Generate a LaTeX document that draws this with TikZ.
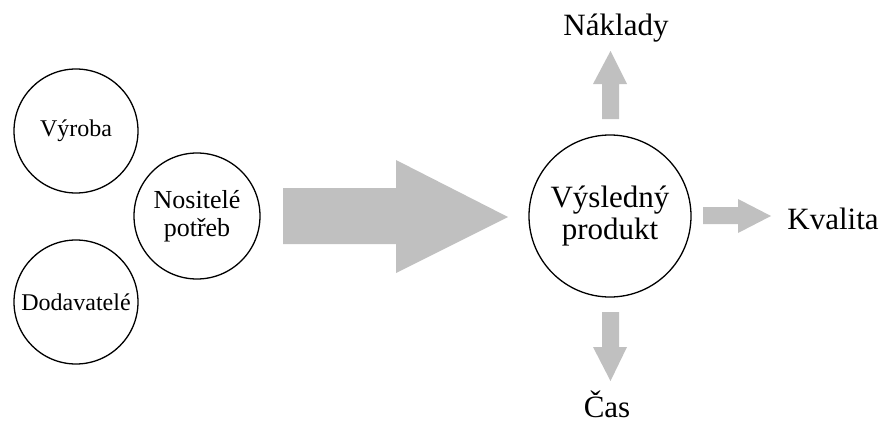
\documentclass[tikz,border=0pt]{standalone}
\usepackage{fontspec}
\setmainfont{Liberation Serif}
\definecolor{arrowgray}{RGB}{192,192,192}
\begin{document}
\begin{tikzpicture}[x=1pt,y=-1pt,
  circ/.style={draw, circle, line width=1.3pt, inner sep=0pt, align=center},
  smalltext/.style={font=\fontsize{24}{28}\selectfont},
  midtext/.style={font=\fontsize{26}{28}\selectfont},
  bigtext/.style={font=\fontsize{31}{33}\selectfont},
  blockarrow/.style={fill=arrowgray, draw=none},
  label/.style={bigtext, anchor=base, inner sep=0pt}]
\useasboundingbox (0,0) rectangle (884,423);

% input circles
\node[circ, smalltext, minimum size=124pt] (vyroba) at (76,131) {Výroba};
\node[circ, midtext, minimum size=126pt] (nositele) at (197,216) {Nositelé\\potřeb};
\node[circ, smalltext, minimum size=124pt] (dodavatele) at (76,302) {Dodavatelé};

% result circle
\node[circ, bigtext, minimum size=162pt] (produkt) at (610,216) {Výsledný\\[-1pt]produkt};

% big block arrow towards the result
\fill[blockarrow] (283,188) -- (396,188) -- (396,160) -- (508,217)
  -- (396,273) -- (396,244) -- (283,244) -- cycle;

% up arrow
\fill[blockarrow] (602,119) -- (602,84) -- (593,84) -- (610.5,51)
  -- (627,84) -- (619,84) -- (619,119) -- cycle;
% right arrow
\fill[blockarrow] (703,207) -- (738,207) -- (738,199) -- (771,216)
  -- (738,233) -- (738,224) -- (703,224) -- cycle;
% down arrow
\fill[blockarrow] (602,312) -- (619,312) -- (619,347) -- (627,347)
  -- (610.5,381) -- (593,347) -- (602,347) -- cycle;

% outcome labels
\node[label] (naklady) at (616,35) {Náklady};
\node[label] (kvalita) at (833,229) {Kvalita};
\node[label] (cas) at (607,417) {Čas};
\end{tikzpicture}
\end{document}
